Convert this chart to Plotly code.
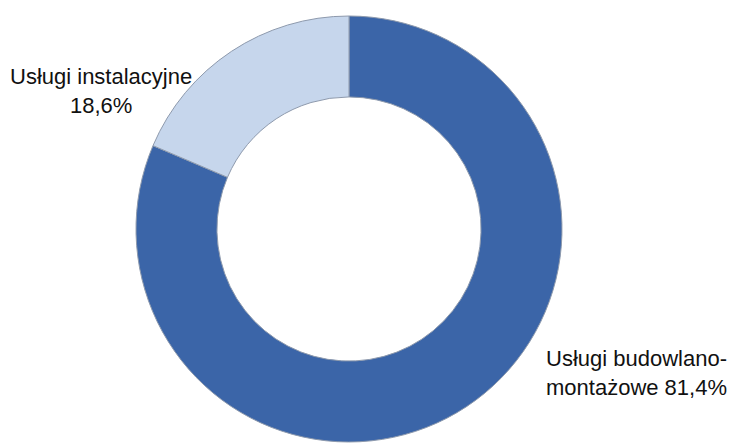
import plotly.graph_objects as go

labels = ["Usługi budowlano-montażowe", "Usługi instalacyjne"]
values = [81.4, 18.6]
colors = ["#3B65A8", "#C6D6EC"]

fig = go.Figure(go.Pie(
    labels=labels, values=values, sort=False, direction="clockwise",
    hole=0.62, textinfo="none", hoverinfo="label+percent",
    marker=dict(colors=colors, line=dict(color="#8E9AAD", width=1)),
    domain=dict(x=[136/730, 562/730], y=[1/443, 427/443]),
    showlegend=False,
))

font = dict(family="Liberation Sans, Arial", size=22, color="#111111")
fig.add_annotation(text="Usługi instalacyjne<br>18,6%", x=101/730, y=1 - 91/443,
                   xref="paper", yref="paper", showarrow=False, align="center",
                   xanchor="center", yanchor="middle", font=font)
fig.add_annotation(text="Usługi budowlano-<br>montażowe 81,4%", x=729/730, y=1 - 373/443,
                   xref="paper", yref="paper", showarrow=False, align="right",
                   xanchor="right", yanchor="middle", font=font)

fig.update_layout(width=730, height=443, margin=dict(l=0, r=0, t=0, b=0),
                  paper_bgcolor="white", plot_bgcolor="white")
fig.write_html("out.html", config={"displayModeBar": False},
               post_script="document.body.style.margin='0';")
